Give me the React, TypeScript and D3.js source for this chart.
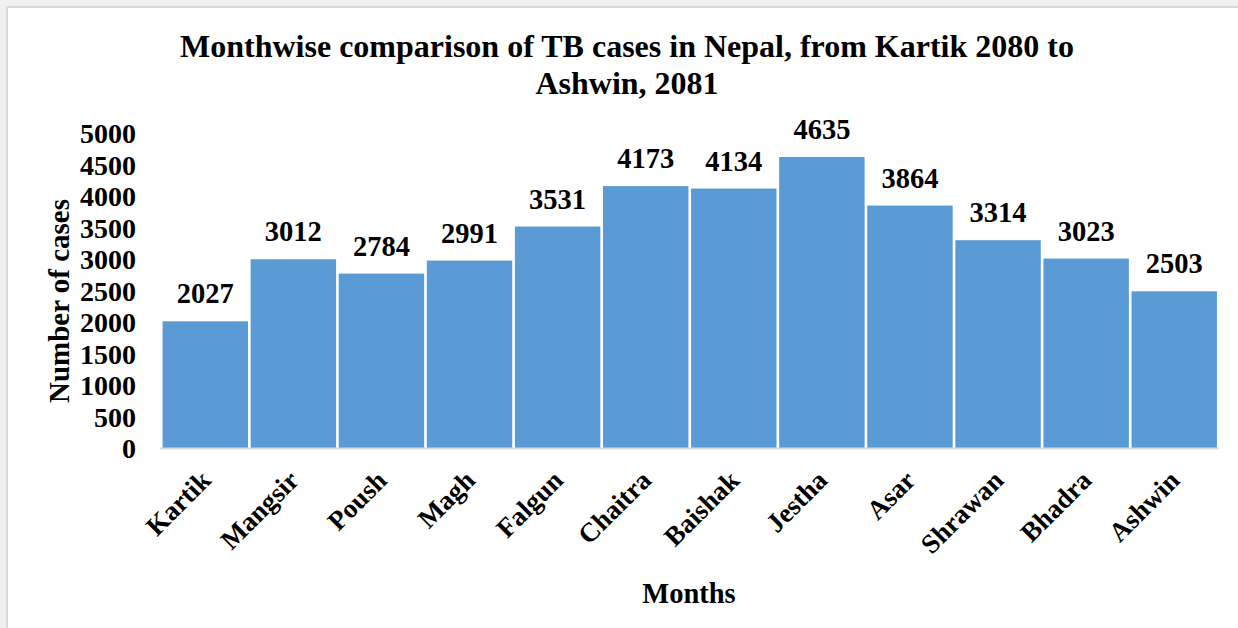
import React from "react";
import * as d3 from "d3";

const months = ["Kartik", "Mangsir", "Poush", "Magh", "Falgun", "Chaitra", "Baishak", "Jestha", "Asar", "Shrawan", "Bhadra", "Ashwin"];
const cases = [2027, 3012, 2784, 2991, 3531, 4173, 4134, 4635, 3864, 3314, 3023, 2503];
const yTicks = [0, 500, 1000, 1500, 2000, 2500, 3000, 3500, 4000, 4500, 5000];
const titleLines = ["Monthwise comparison of TB cases in Nepal, from Kartik 2080 to", "Ashwin, 2081"];

const W = 1238;
const H = 628;
const FONT = "'Liberation Serif', 'Times New Roman', serif";

export default function App() {
  const x = d3.scaleBand<string>().domain(months).range([161.5, 1218]).paddingInner(0.03).paddingOuter(0.012);
  const y = d3.scaleLinear().domain([0, 5000]).range([449, 134]);
  const cx = (m: string) => (x(m) ?? 0) + x.bandwidth() / 2;

  return (
    <svg width={W} height={H} style={{ position: "absolute", left: 0, top: 0, display: "block" }}>
      <rect x={0} y={0} width={W} height={H} fill="#f0f0f0" />
      <rect x={7} y={7} width={W + 10} height={H + 10} fill="#ffffff" stroke="#d9d9d9" strokeWidth={2} />
      <g fontFamily={FONT} fontWeight="bold" fill="#000">
        {titleLines.map((t, i) => (
          <text key={i} x={627} y={57 + i * 37} textAnchor="middle" fontSize={32}>{t}</text>
        ))}
        {yTicks.map((t) => (
          <text key={t} x={136} y={y(t) + 9} textAnchor="end" fontSize={28}>{t}</text>
        ))}
        <text transform={`translate(69,301) rotate(-90)`} textAnchor="middle" fontSize={29}>Number of cases</text>
        {months.map((m, i) => (
          <rect key={m} x={x(m)} y={y(cases[i])} width={x.bandwidth()} height={y(0) - y(cases[i])} fill="#5b9bd5" />
        ))}
        <line x1={160} x2={1219} y1={448.5} y2={448.5} stroke="#d9d9d9" strokeWidth={2} />
        {months.map((m, i) => (
          <text key={m} x={cx(m)} y={y(cases[i]) - 18} textAnchor="middle" fontSize={28.5}>{cases[i]}</text>
        ))}
        {months.map((m) => (
          <text key={m} transform={`translate(${cx(m) + 7},${482}) rotate(-45)`} textAnchor="end" fontSize={27}>{m}</text>
        ))}
        <text x={689} y={603} textAnchor="middle" fontSize={28.5}>Months</text>
      </g>
    </svg>
  );
}
